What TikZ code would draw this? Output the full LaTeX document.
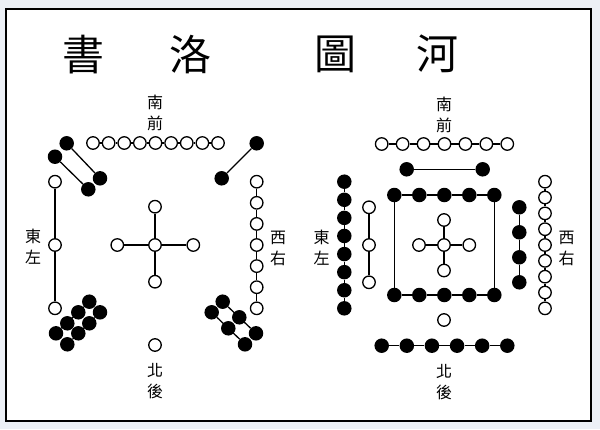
\documentclass[tikz,border=0pt]{standalone}
\usepackage{fontspec}
\newfontfamily\cjk{Noto Sans CJK TC}
\definecolor{framebg}{RGB}{236,240,246}
\tikzset{
  yang/.style={circle, draw=black, fill=white, line width=1.3pt, minimum size=12.5pt, inner sep=0pt},
  yin/.style={circle, fill=black, minimum size=14.5pt, inner sep=0pt},
  link/.style={line width=1.3pt},
  dirlabel/.style={font=\cjk\fontsize{16}{21}\selectfont, align=center, inner sep=0pt},
  title/.style={font=\cjk\fontsize{42}{42}\selectfont, inner sep=0pt}
}

\begin{document}
\begin{tikzpicture}[x=1pt, y=-1pt]
\useasboundingbox (0,0) rectangle (600,429);
\fill[framebg] (0,0) rectangle (600,429);
\draw[line width=2pt, fill=white] (6,9) rectangle (591,421);

% titles
\node[title] (shu) at (83,55) {書};
\node[title] (luo) at (190,55) {洛};
\node[title] (tu) at (335,54) {圖};
\node[title] (he) at (437,54) {河};

% Luo Shu
\node[dirlabel] (lnan) at (155,113) {南\\前};
\node[dirlabel] (ldong) at (33,247) {東\\左};
\node[dirlabel] (lxi) at (278,248) {西\\右};
\node[dirlabel] (lbei) at (155,381) {北\\後};

\foreach \i in {1,...,9}
  \node[yang] (n\i) at ({93+15.625*(\i-1)},143) {};
\foreach \i [count=\j from 2] in {1,...,8}
  \draw[link] (n\i) -- (n\j);

\node[yin] (a1) at (66.7,143.3) {};
\node[yin] (a2) at (55,156.7) {};
\node[yin] (a3) at (100,178.3) {};
\node[yin] (a4) at (88.3,189.3) {};
\draw[link] (a1) -- (a3);
\draw[link] (a2) -- (a4);

\node[yin] (b1) at (256.7,143.3) {};
\node[yin] (b2) at (221.7,178.3) {};
\draw[link] (b1) -- (b2);

\node[yang] (c1) at (55,181.7) {};
\node[yang] (c2) at (55,245) {};
\node[yang] (c3) at (55,308.3) {};
\draw[link] (c1) -- (c2);
\draw[link] (c2) -- (c3);

\node[yang] (o) at (155,245) {};
\node[yang] (o1) at (155,206.7) {};
\node[yang] (o2) at (155,281.7) {};
\node[yang] (o3) at (117.3,245) {};
\node[yang] (o4) at (193.3,245) {};
\foreach \i in {1,...,4}
  \draw[link] (o) -- (o\i);

\foreach \i in {1,...,7}
  \node[yang] (d\i) at (256.7,{181.7+21.1*(\i-1)}) {};
\foreach \i [count=\j from 2] in {1,...,6}
  \draw[link] (d\i) -- (d\j);

\node[yin] (e1) at (89.3,301.7) {};
\node[yin] (e2) at (100,312.3) {};
\node[yin] (e3) at (78.3,312.3) {};
\node[yin] (e4) at (89.3,323.3) {};
\node[yin] (e5) at (67.3,323.3) {};
\node[yin] (e6) at (78.3,333.3) {};
\node[yin] (e7) at (56,333.3) {};
\node[yin] (e8) at (67.3,344.3) {};
\draw[link] (e1) -- (e7);
\draw[link] (e2) -- (e8);

\node[yin] (f1) at (222.7,301.7) {};
\node[yin] (f2) at (211.7,312.3) {};
\node[yin] (f3) at (239.3,317.3) {};
\node[yin] (f4) at (228.3,328.3) {};
\node[yin] (f5) at (256,333.3) {};
\node[yin] (f6) at (245,344.3) {};
\draw[link] (f1) -- (f5);
\draw[link] (f2) -- (f6);

\node[yang] (g) at (155,345) {};

% He Tu
\node[dirlabel] (rnan) at (444,115) {南\\前};
\node[dirlabel] (rdong) at (321.7,248) {東\\左};
\node[dirlabel] (rxi) at (566.7,248) {西\\右};
\node[dirlabel] (rbei) at (444,382) {北\\後};

\foreach \i in {1,...,7}
  \node[yang] (h\i) at ({381.7+20.93*(\i-1)},144) {};
\foreach \i [count=\j from 2] in {1,...,6}
  \draw[link] (h\i) -- (h\j);

\node[yin] (k1) at (406.7,169.3) {};
\node[yin] (k2) at (482.7,169.3) {};
\draw[link] (k1) -- (k2);

\foreach \i in {1,...,5} {
  \node[yin] (q\i) at ({394.3+25*(\i-1)},195) {};
  \node[yin] (r\i) at ({394.3+25*(\i-1)},295) {};
}
\foreach \i [count=\j from 2] in {1,...,4} {
  \draw[link] (q\i) -- (q\j);
  \draw[link] (r\i) -- (r\j);
}
\draw[link] (q1) -- (r1);
\draw[link] (q5) -- (r5);

\node[yang] (w) at (444,245) {};
\node[yang] (w1) at (444,220) {};
\node[yang] (w2) at (444,270.5) {};
\node[yang] (w3) at (419,245) {};
\node[yang] (w4) at (469.3,245) {};
\foreach \i in {1,...,4}
  \draw[link] (w) -- (w\i);

\node[yang] (l1) at (369,207.3) {};
\node[yang] (l2) at (369,245) {};
\node[yang] (l3) at (369,282.3) {};
\draw[link] (l1) -- (l2);
\draw[link] (l2) -- (l3);

\foreach \i in {1,...,8}
  \node[yin] (m\i) at (344.3,{181.7+18.09*(\i-1)}) {};
\foreach \i [count=\j from 2] in {1,...,7}
  \draw[link] (m\i) -- (m\j);

\foreach \i in {1,...,4}
  \node[yin] (s\i) at (519.3,{207.3+25*(\i-1)}) {};
\foreach \i [count=\j from 2] in {1,...,3}
  \draw[link] (s\i) -- (s\j);

\foreach \i in {1,...,9}
  \node[yang] (t\i) at (545,{181.7+15.83*(\i-1)}) {};
\foreach \i [count=\j from 2] in {1,...,8}
  \draw[link] (t\i) -- (t\j);

\node[yang] (u) at (444,320) {};

\foreach \i in {1,...,6}
  \node[yin] (v\i) at ({381.7+25.12*(\i-1)},345.7) {};
\foreach \i [count=\j from 2] in {1,...,5}
  \draw[link] (v\i) -- (v\j);
\end{tikzpicture}
\end{document}
